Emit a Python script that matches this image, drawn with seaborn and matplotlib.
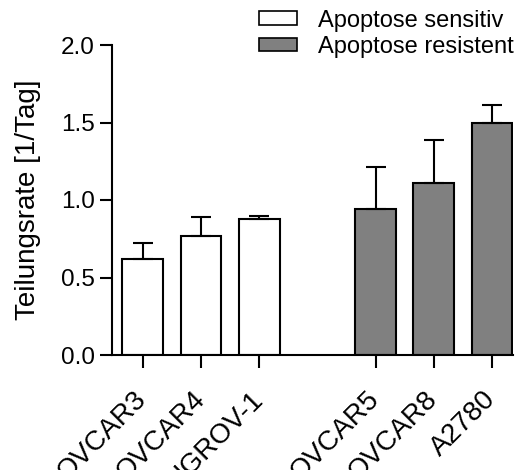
import matplotlib
matplotlib.use("Agg")
import matplotlib.pyplot as plt
import seaborn as sns
import pandas as pd
from matplotlib.patches import Patch

cell_lines = ["OVCAR3", "OVCAR4", "IGROV-1", "OVCAR5", "OVCAR8", "A2780"]
groups = ["Apoptose sensitiv"] * 3 + ["Apoptose resistent"] * 3
rates = [0.62, 0.77, 0.88, 0.94, 1.11, 1.50]
sd = [0.10, 0.12, 0.02, 0.27, 0.28, 0.11]

# empty slot between the two groups
order = ["OVCAR3", "OVCAR4", "IGROV-1", " ", "OVCAR5", "OVCAR8", "A2780"]
palette = {"Apoptose sensitiv": "white", "Apoptose resistent": "#808080"}

df = pd.DataFrame({"cell": cell_lines, "group": groups, "rate": rates, "sd": sd})

sns.set_style("ticks")
plt.rcParams["font.family"] = ["Liberation Sans", "DejaVu Sans"]
plt.rcParams["text.color"] = "black"
plt.rcParams["axes.labelcolor"] = "black"
plt.rcParams["xtick.color"] = "black"
plt.rcParams["ytick.color"] = "black"

fig = plt.figure(figsize=(5.17, 4.7), dpi=100)
ax = fig.add_axes([112 / 517, 115 / 470, 401 / 517, 310 / 470])

sns.barplot(data=df, x="cell", y="rate", hue="group", order=order,
            palette=palette, dodge=False, width=0.7, errorbar=None,
            edgecolor="black", linewidth=1.5, legend=False, ax=ax)

pos = [order.index(c) for c in cell_lines]
ax.errorbar(pos, df["rate"], yerr=[[0] * len(sd), df["sd"]], fmt="none",
            ecolor="black", elinewidth=1.5, capsize=7, capthick=1.5, zorder=1)

ax.set_xlim(-0.53, 6.36)
ax.set_ylim(0, 2.0)
ax.set_yticks([0.0, 0.5, 1.0, 1.5, 2.0])
ax.set_yticklabels(["0.0", "0.5", "1.0", "1.5", "2.0"], fontsize=17.5)
ax.set_xticks(pos)
ax.set_xticklabels(cell_lines, rotation=45, ha="right", va="center",
                   rotation_mode="anchor", fontsize=20)
ax.set_xlabel("")
ax.set_ylabel("Teilungsrate [1/Tag]", fontsize=20, labelpad=14)
ax.tick_params(axis="both", width=1.5, length=9, color="black")
ax.tick_params(axis="x", pad=20)

for s in ["top", "right"]:
    ax.spines[s].set_visible(False)
for s in ["left", "bottom"]:
    ax.spines[s].set_linewidth(1.5)
    ax.spines[s].set_color("black")

handles = [Patch(facecolor=palette[g], edgecolor="black", linewidth=1.2, label=g)
           for g in ["Apoptose sensitiv", "Apoptose resistent"]]
fig.legend(handles=handles, loc="upper right", bbox_to_anchor=(1.035, 1.025),
           frameon=False, fontsize=17, handlelength=1.6, handleheight=0.5,
           labelspacing=0.18, handletextpad=0.9)

fig.savefig("out.png", dpi=100)
